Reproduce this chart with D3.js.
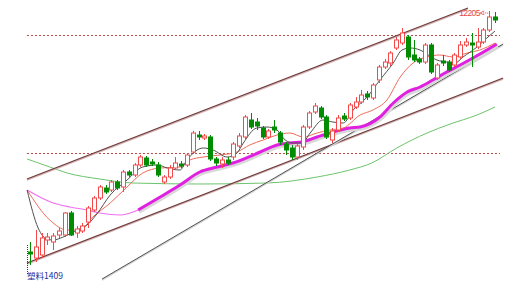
<!DOCTYPE html>
<html>
<head>
<meta charset="utf-8">
<script src="https://cdn.jsdelivr.net/npm/d3@7"></script>
<style>
  body { margin: 0; background: #fff; }
  svg { display: block; }
</style>
</head>
<body>
<div id="root"></div>
<script>
// candle data [open, high, low, close], one per trading day
const candles = [
  [11000, 11050, 10935, 10990], [10970, 11110, 10950, 11025], [10985, 11095, 10970, 11070],
  [11060, 11095, 11035, 11075], [11050, 11095, 11010, 11080], [11085, 11120, 11070, 11105],
  [11085, 11200, 11075, 11195], [11195, 11205, 11080, 11085], [11095, 11130, 11070, 11115],
  [11105, 11145, 11095, 11130], [11150, 11230, 11120, 11220], [11210, 11280, 11200, 11270],
  [11270, 11335, 11260, 11325], [11320, 11335, 11290, 11300], [11310, 11360, 11300, 11350],
  [11350, 11360, 11310, 11320], [11325, 11410, 11300, 11400], [11400, 11410, 11375, 11385],
  [11385, 11445, 11375, 11435], [11435, 11485, 11425, 11475], [11470, 11480, 11425, 11435],
  [11450, 11465, 11430, 11440], [11435, 11450, 11375, 11385], [11350, 11385, 11340, 11375],
  [11375, 11435, 11365, 11420], [11420, 11475, 11410, 11445], [11440, 11455, 11420, 11430],
  [11435, 11495, 11425, 11485], [11500, 11605, 11490, 11595], [11585, 11605, 11560, 11575],
  [11570, 11590, 11560, 11580], [11575, 11585, 11455, 11465], [11465, 11475, 11430, 11445],
  [11440, 11475, 11420, 11460], [11460, 11475, 11435, 11445], [11475, 11550, 11460, 11540],
  [11530, 11595, 11520, 11580], [11575, 11685, 11565, 11675], [11660, 11695, 11615, 11625],
  [11650, 11670, 11610, 11630], [11620, 11630, 11565, 11575], [11575, 11615, 11565, 11605],
  [11625, 11660, 11595, 11610], [11595, 11605, 11535, 11550], [11540, 11550, 11485, 11510],
  [11520, 11535, 11460, 11475], [11475, 11540, 11460, 11530], [11525, 11635, 11510, 11625],
  [11625, 11705, 11615, 11695], [11700, 11745, 11690, 11730], [11720, 11730, 11665, 11675],
  [11675, 11685, 11565, 11575], [11560, 11620, 11545, 11605], [11610, 11685, 11600, 11670],
  [11680, 11695, 11655, 11665], [11670, 11745, 11660, 11735], [11725, 11775, 11715, 11750],
  [11750, 11810, 11740, 11785], [11790, 11805, 11760, 11775], [11770, 11845, 11760, 11835],
  [11860, 11935, 11845, 11925], [11925, 11965, 11915, 11950], [11945, 12005, 11930, 11995],
  [12020, 12075, 12010, 12060], [12045, 12120, 12035, 12095], [12075, 12085, 11960, 11975],
  [11985, 12060, 11950, 11960], [11965, 11975, 11940, 11950], [11950, 12045, 11940, 12035],
  [12035, 12045, 11890, 11900], [11870, 11945, 11860, 11935], [11955, 11985, 11930, 11945],
  [11950, 11960, 11900, 11910], [11935, 11995, 11925, 11985], [11975, 12055, 11965, 12035],
  [12035, 12070, 12025, 12050], [12045, 12095, 11925, 12035], [12025, 12120, 12015, 12050],
  [12050, 12120, 12040, 12110], [12110, 12205, 12100, 12175], [12175, 12200, 12145, 12160]
];

// moving averages as [day index, price]
const ma5 = [
  [-0.5, 11310], [1.4, 11120], [2.9, 11065], [4, 11060], [5.7, 11075], [8.1, 11110],
  [9.8, 11135], [11.5, 11190], [13.8, 11285], [16.7, 11360], [19.4, 11425], [21.9, 11435],
  [23.6, 11420], [25.8, 11410], [27, 11460], [29.8, 11520], [31.5, 11510], [33.9, 11475],
  [35.6, 11495], [36.7, 11545], [39, 11620], [40.8, 11625], [42.5, 11610], [43.9, 11560],
  [45.3, 11545], [46.8, 11545], [48.2, 11595], [50.4, 11660], [52.1, 11650], [53.9, 11645],
  [55.6, 11710], [58, 11775], [60.2, 11860], [62.5, 11945], [64, 12010], [65.4, 12020],
  [67.1, 12010], [68.5, 11985], [70, 11960], [71.7, 11950], [73.1, 11945], [74.5, 11975],
  [76.9, 12025], [78.6, 12070], [80, 12105]
];
const ma10 = [
  [-0.5, 11310], [3.4, 11160], [6.4, 11110], [8.6, 11110], [10.8, 11175], [13.8, 11245],
  [16.7, 11325], [19.4, 11395], [22.4, 11420], [25.8, 11425], [27.5, 11460], [29.8, 11475],
  [32.7, 11485], [35.6, 11500], [37.8, 11535], [40.1, 11560], [42.5, 11585], [44.7, 11595],
  [47, 11575], [49.4, 11595], [51.6, 11610], [53.9, 11620], [56.8, 11685], [59, 11710],
  [61.4, 11760], [63.7, 11875], [65.9, 11945], [68.3, 11975], [70.5, 11985], [72.8, 11975],
  [75.2, 11995], [77.4, 12010], [80, 12045]
];
const ma20 = [
  [-0.5, 11310], [4, 11245], [6.9, 11225], [9.8, 11210], [12, 11195], [15.5, 11185],
  [18.6, 11210], [22.4, 11275], [25.8, 11335], [29.2, 11400], [32.2, 11425], [34.9, 11445],
  [39.6, 11500], [42.5, 11535], [44.7, 11545], [46.8, 11550], [49.4, 11575], [51.6, 11595],
  [55, 11620], [56.8, 11625], [60.2, 11675], [62.5, 11745], [64.9, 11800], [67.1, 11825],
  [69.3, 11860], [71.7, 11900], [74, 11935], [76.2, 11970], [78.6, 12010], [80.3, 12040]
];
const ma20BoldFrom = 18.6;
const ma60 = [
  [-0.5, 11465], [3.4, 11425], [6.4, 11395], [12, 11365], [17.7, 11345], [29.2, 11340],
  [40.8, 11345], [49.4, 11375], [55, 11410], [58.8, 11445], [63.1, 11520], [68.3, 11595],
  [72.3, 11640], [76.9, 11685], [80, 11725]
];

// trend lines, endpoints as [day index, price]
const channelTop = [[-0.52, 11365], [75.35, 12220]];
const channelBottom = [[-0.52, 10945], [81.4, 11870]];
const supportLine = [[12.4, 10865], [81.4, 12040]];
const levels = [12085, 11495];

const highLabel = '12205';
const contractName = '塑料1409';

const W = 523, H = 285;
const x = d3.scaleLinear().domain([0, 80]).range([30, 495]);
const y = d3.scaleLinear().domain([10835, 12260]).range([285, 0]);

const up = '#f24a4a', down = '#008c00';

const svg = d3.select('#root').append('svg')
  .attr('width', W).attr('height', H);

// dotted price levels
svg.selectAll('line.level').data(levels).enter().append('line')
  .attr('x1', x(-0.52)).attr('x2', 500)
  .attr('y1', d => Math.round(y(d)) + 0.5).attr('y2', d => Math.round(y(d)) + 0.5)
  .attr('stroke', '#c04848').attr('stroke-width', 1).attr('stroke-dasharray', '2,2');

const line = d3.line().x(d => x(d[0])).y(d => y(d[1]));
const smooth = d3.line().x(d => x(d[0])).y(d => y(d[1])).curve(d3.curveMonotoneX);

// green long average
svg.append('path').attr('d', smooth(ma60))
  .attr('fill', 'none').attr('stroke', '#6cc46c').attr('stroke-width', 1);

// trend lines
[channelTop, channelBottom].forEach(seg => {
  svg.append('path').attr('d', line(seg))
    .attr('transform', 'translate(0,1)')
    .attr('stroke', '#d4b4b4').attr('stroke-width', 1.5).attr('fill', 'none');
  svg.append('path').attr('d', line(seg))
    .attr('stroke', '#6e3a3a').attr('stroke-width', 1.2).attr('fill', 'none');
});
svg.append('path').attr('d', line(supportLine))
  .attr('transform', 'translate(0,1)')
  .attr('stroke', '#d4d4d4').attr('stroke-width', 1.5).attr('fill', 'none');
svg.append('path').attr('d', line(supportLine))
  .attr('stroke', '#505050').attr('stroke-width', 1).attr('fill', 'none');

// magenta MA20: thin start, bold later part with soft shadow
const thinPart = ma20.filter(d => d[0] <= ma20BoldFrom);
const boldPart = ma20.filter(d => d[0] >= ma20BoldFrom);
svg.append('path').attr('d', smooth(thinPart))
  .attr('fill', 'none').attr('stroke', '#f070f0').attr('stroke-width', 1.2);
svg.append('path').attr('d', smooth(boldPart))
  .attr('transform', 'translate(1,2)')
  .attr('fill', 'none').attr('stroke', '#d8d8d8').attr('stroke-width', 3.5);
svg.append('path').attr('d', smooth(boldPart))
  .attr('fill', 'none').attr('stroke', '#e020e0').attr('stroke-width', 3);

svg.append('path').attr('d', smooth(ma10))
  .attr('fill', 'none').attr('stroke', '#f06a5a').attr('stroke-width', 1);
svg.append('path').attr('d', smooth(ma5))
  .attr('fill', 'none').attr('stroke', '#505050').attr('stroke-width', 1);

// candles
const bw = 4;
const g = svg.append('g');
const c = g.selectAll('g.c').data(candles).enter().append('g');
c.append('line')
  .attr('x1', (d, i) => Math.round(x(i)) + 0.5).attr('x2', (d, i) => Math.round(x(i)) + 0.5)
  .attr('y1', d => y(d[1])).attr('y2', d => y(d[2]))
  .attr('stroke', d => d[3] >= d[0] ? up : down).attr('stroke-width', 1);
c.append('rect')
  .attr('x', (d, i) => Math.round(x(i)) - bw / 2 + 0.5)
  .attr('y', d => y(Math.max(d[0], d[3])))
  .attr('width', bw)
  .attr('height', d => Math.max(1, Math.abs(y(d[0]) - y(d[3]))))
  .attr('fill', d => d[3] >= d[0] ? '#fff' : down)
  .attr('stroke', d => d[3] >= d[0] ? up : down)
  .attr('stroke-width', 1);

// high marker
const hiIdx = d3.maxIndex(candles, d => d[1]);
const hx = x(hiIdx), hy = y(candles[hiIdx][1]);
svg.append('text')
  .attr('x', hx - 30).attr('y', hy + 5)
  .attr('font-family', 'Liberation Sans, Arial, sans-serif')
  .attr('font-size', 8.5).attr('letter-spacing', -0.6).attr('fill', '#e04848')
  .text(highLabel + '<');
svg.append('line')
  .attr('x1', hx - 6).attr('x2', hx - 1).attr('y1', hy + 2).attr('y2', hy + 2)
  .attr('stroke', '#e04848').attr('stroke-dasharray', '1,1');

// contract label
svg.append('line')
  .attr('x1', 27.5).attr('x2', 27.5).attr('y1', 245).attr('y2', 274)
  .attr('stroke', '#2030a0').attr('stroke-dasharray', '1,1');
svg.append('text')
  .attr('x', 27).attr('y', 279)
  .attr('font-family', 'Noto Sans CJK SC, sans-serif')
  .attr('font-size', 8.5).attr('fill', '#2030a0')
  .text(contractName);
</script>
</body>
</html>
